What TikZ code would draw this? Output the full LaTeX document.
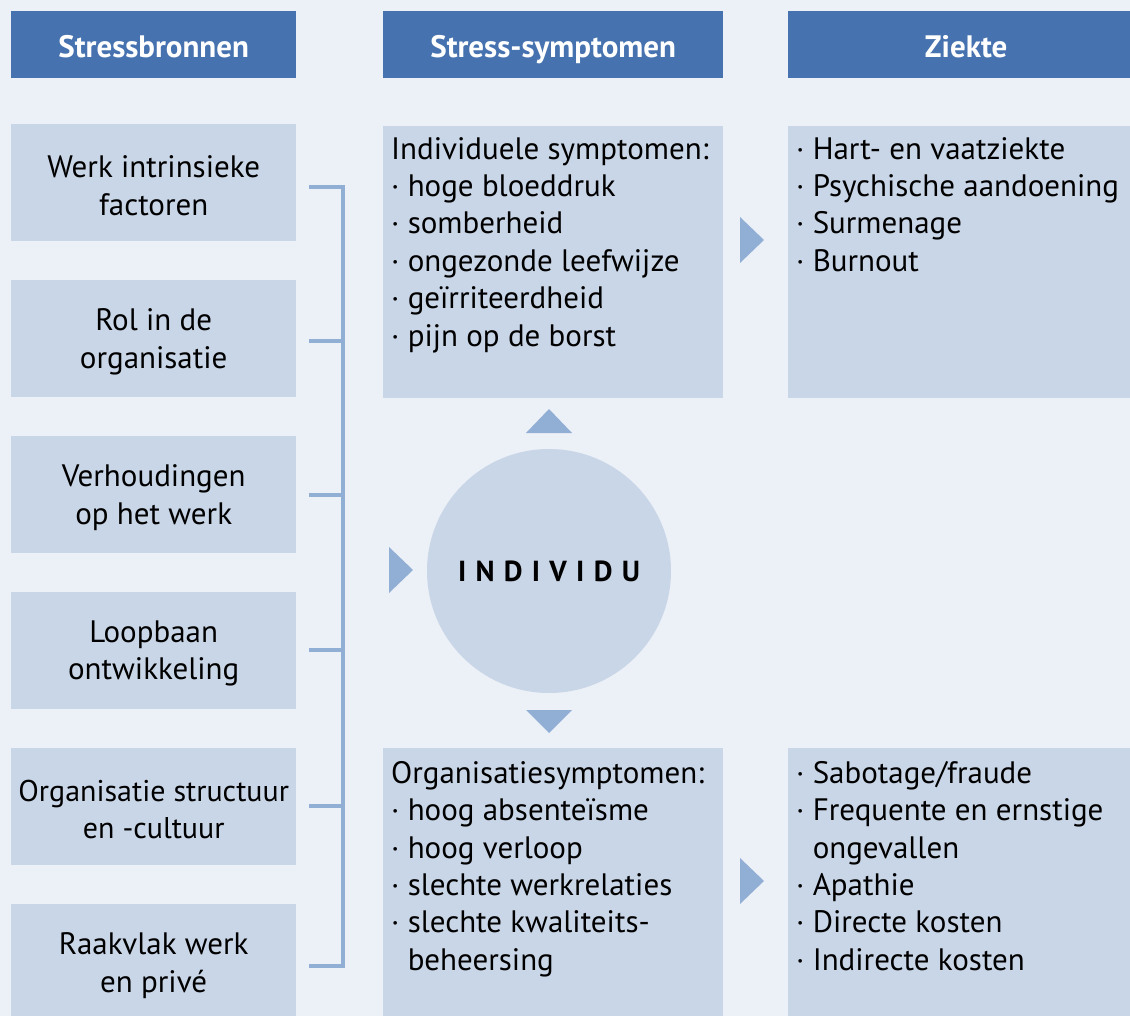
\documentclass[tikz,border=0pt]{standalone}
\usepackage{fontspec}
\setmainfont{PT Sans}
\definecolor{bg}{RGB}{236,240,247}
\definecolor{boxblue}{RGB}{201,214,231}
\definecolor{hdrblue}{RGB}{70,115,176}
\definecolor{lineblue}{RGB}{145,174,212}
\newcommand\txtfont{\fontsize{31}{37.4}\selectfont}
\newcommand\fstrut{\rule{0pt}{30pt}}
\begin{document}
\begin{tikzpicture}[x=1pt,y=-1pt,
  hdr/.style={fill=hdrblue,text=white,font=\bfseries\txtfont,inner sep=0,anchor=north west,minimum height=67,text height=26,text depth=0},
  srcbox/.style={fill=boxblue,inner sep=0,anchor=north west,minimum width=285,minimum height=117},
  srctxt/.style={inner sep=0,align=center,font=\txtfont},
  bigbox/.style={fill=boxblue,inner sep=0,anchor=north west,minimum height=272},
  txt/.style={anchor=north west,inner sep=0,align=left,font=\txtfont},
  bracket/.style={draw=lineblue,line width=4pt},
  tri/.style={fill=lineblue,draw=none}]
\useasboundingbox[fill=bg] (0,0) rectangle (1130,1016);
\clip (0,0) rectangle (1130,1016);
% headers
\node[hdr,minimum width=285] (h1) at (11,11) {Stressbronnen};
\node[hdr,minimum width=340] (h2) at (383,11) {Stress-symptomen};
\node[hdr,minimum width=356] (h3) at (788,11) {Ziekte};
% source boxes
\node[srcbox] (s1) at (11,124) {};
\node[srcbox] (s2) at (11,280) {};
\node[srcbox] (s3) at (11,436) {};
\node[srcbox] (s4) at (11,592) {};
\node[srcbox] (s5) at (11,748) {};
\node[srcbox] (s6) at (11,904) {};
\node[srctxt] (s1t) at ([yshift=-3pt]s1.center) {Werk intrinsieke\\factoren};
\node[srctxt] (s2t) at ([yshift=-3pt]s2.center) {Rol in de\\organisatie};
\node[srctxt] (s3t) at ([yshift=-3pt]s3.center) {Verhoudingen\\op het werk};
\node[srctxt] (s4t) at ([yshift=-3pt]s4.center) {Loopbaan\\ontwikkeling};
\node[srctxt,font=\fontsize{30}{37.4}\selectfont] (s5t) at ([yshift=-3pt]s5.center) {Organisatie structuur\\en -cultuur};
\node[srctxt] (s6t) at ([yshift=-3pt]s6.center) {Raakvlak werk\\en privé};
% bracket
\coordinate (t1) at (309,187);
\coordinate (t2) at (309,341);
\coordinate (t3) at (309,495);
\coordinate (t4) at (309,650);
\coordinate (t5) at (309,806);
\coordinate (t6) at (309,966);
\coordinate (v1) at (343,187);
\coordinate (v6) at (343,966);
\draw[bracket] (t1) -- (v1) -- (v6) -- (t6);
\draw[bracket] (t2) -- (t2 -| v1);
\draw[bracket] (t3) -- (t3 -| v1);
\draw[bracket] (t4) -- (t4 -| v1);
\draw[bracket] (t5) -- (t5 -| v1);
% big boxes
\node[bigbox,minimum width=340] (m1) at (383,126) {};
\node[bigbox,minimum width=360] (r1) at (788,126) {};
\node[bigbox,minimum width=340,minimum height=280] (m2) at (383,748) {};
\node[bigbox,minimum width=360,minimum height=280] (r2) at (788,748) {};
% texts
\node[txt] (m1t) at (391,129) {\fstrut Individuele symptomen:\\
· hoge bloeddruk\\· somberheid\\· ongezonde leefwijze\\· geïrriteerdheid\\· pijn op de borst};
\node[txt] (r1t) at (796,129) {\fstrut· Hart- en vaatziekte\\· Psychische aandoening\\· Surmenage\\· Burnout};
\node[txt] (m2t) at (391,753) {\fstrut Organisatiesymptomen:\\
· hoog absenteïsme\\· hoog verloop\\· slechte werkrelaties\\· slechte kwaliteits-\\\phantom{· }beheersing};
\node[txt] (r2t) at (796,753) {\fstrut· Sabotage/fraude\\· Frequente en ernstige\\\phantom{· }ongevallen\\· Apathie\\· Directe kosten\\· Indirecte kosten};
% individu
\node[circle,fill=boxblue,minimum size=244,inner sep=0] (ind) at (549,571)
  {\bfseries\fontsize{29}{30}\selectfont\addfontfeature{LetterSpace=32}INDIVIDU};
% triangles
\fill[tri] (526,433) -- (549,409) -- (572,433) -- cycle;
\fill[tri] (526,710) -- (549,733) -- (572,710) -- cycle;
\fill[tri] (389,547) -- (413,570) -- (389,593) -- cycle;
\fill[tri] (740,217) -- (764,240) -- (740,263) -- cycle;
\fill[tri] (740,858) -- (764,881) -- (740,904) -- cycle;
\end{tikzpicture}
\end{document}
